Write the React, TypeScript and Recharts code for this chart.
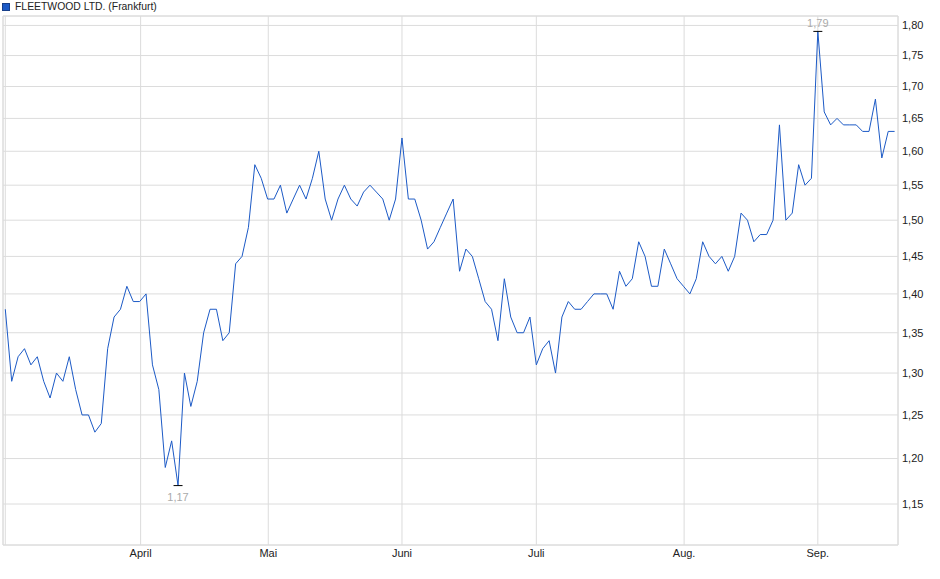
import React from 'react';
import { LineChart, Line, XAxis, YAxis, CartesianGrid, ReferenceArea } from 'recharts';

const seriesName = 'FLEETWOOD LTD. (Frankfurt)';

const prices: number[] = [
  1.38, 1.29, 1.32, 1.33, 1.31, 1.32, 1.29, 1.27, 1.30, 1.29,
  1.32, 1.28, 1.25, 1.25, 1.23, 1.24, 1.33, 1.37, 1.38, 1.41,
  1.39, 1.39, 1.40, 1.31, 1.28, 1.19, 1.22, 1.17, 1.30, 1.26,
  1.29, 1.35, 1.38, 1.38, 1.34, 1.35, 1.44, 1.45, 1.49, 1.58,
  1.56, 1.53, 1.53, 1.55, 1.51, 1.53, 1.55, 1.53, 1.56, 1.60,
  1.53, 1.50, 1.53, 1.55, 1.53, 1.52, 1.54, 1.55, 1.54, 1.53,
  1.50, 1.53, 1.62, 1.53, 1.53, 1.50, 1.46, 1.47, 1.49, 1.51,
  1.53, 1.43, 1.46, 1.45, 1.42, 1.39, 1.38, 1.34, 1.42, 1.37,
  1.35, 1.35, 1.37, 1.31, 1.33, 1.34, 1.30, 1.37, 1.39, 1.38,
  1.38, 1.39, 1.40, 1.40, 1.40, 1.38, 1.43, 1.41, 1.42, 1.47,
  1.45, 1.41, 1.41, 1.46, 1.44, 1.42, 1.41, 1.40, 1.42, 1.47,
  1.45, 1.44, 1.45, 1.43, 1.45, 1.51, 1.50, 1.47, 1.48, 1.48,
  1.50, 1.64, 1.50, 1.51, 1.58, 1.55, 1.56, 1.79, 1.66, 1.64,
  1.65, 1.64, 1.64, 1.64, 1.63, 1.63, 1.68, 1.59, 1.63, 1.63,
];

const monthTickPos: number[] = [0, 21.15, 41.1, 62, 83, 106.1, 127];
const monthLabels: string[] = ['', 'April', 'Mai', 'Juni', 'Juli', 'Aug.', 'Sep.'];

const priceTicks: number[] = [1.15, 1.2, 1.25, 1.3, 1.35, 1.4, 1.45, 1.5, 1.55, 1.6, 1.65, 1.7, 1.75, 1.8];

const xDomain: [number, number] = [-0.36, 139.53];
const yDomain: [number, number] = [1.1067, 1.816];

const data = prices.map((p, i) => ({ i, p }));

const maxIdx = prices.indexOf(Math.max(...prices));
const minIdx = prices.indexOf(Math.min(...prices));

const fmt = (v: number) => v.toFixed(2).replace('.', ',');

const FONT = '"Liberation Sans", Arial, sans-serif';
const LINE_COLOR = '#1c5ac6';

const renderDot = (props: any) => {
  const { cx, cy, index } = props;
  if (index !== maxIdx && index !== minIdx) return <g key={`d${index}`} />;
  const isMax = index === maxIdx;
  return (
    <g key={`d${index}`}>
      <line x1={cx - 4.5} x2={cx + 4.5} y1={cy} y2={cy} stroke="#000" strokeWidth={1} />
      <text
        x={cx}
        y={isMax ? cy - 4 : cy + 15}
        textAnchor="middle"
        fontSize={11}
        fontFamily={FONT}
        fill="#aaaaaa"
      >
        {fmt(prices[index])}
      </text>
    </g>
  );
};

export default function App() {
  return (
    <div style={{ position: 'absolute', left: 0, top: 0, width: 940, height: 579, background: '#fff' }}>
      <div
        style={{
          position: 'absolute',
          left: 2,
          top: 0,
          display: 'flex',
          alignItems: 'center',
          fontFamily: FONT,
          fontSize: 10.4,
          color: '#222',
          lineHeight: '13px',
          whiteSpace: 'nowrap',
        }}
      >
        <span
          style={{
            display: 'inline-block',
            width: 6,
            height: 6,
            background: LINE_COLOR,
            border: '1px solid #173f8a',
            marginRight: 5,
          }}
        />
        <span>{seriesName}</span>
      </div>
      <LineChart
        width={940}
        height={579}
        data={data}
        margin={{ top: 16, right: 0, left: 3, bottom: 4 }}
      >
        <CartesianGrid stroke="#dcdcdc" strokeDasharray="" />
        <ReferenceArea
          x1={xDomain[0]}
          x2={xDomain[1]}
          y1={yDomain[0]}
          y2={yDomain[1]}
          fill="none"
          stroke="#dcdcdc"
          ifOverflow="visible"
        />
        <XAxis
          dataKey="i"
          type="number"
          domain={xDomain}
          ticks={monthTickPos}
          tickFormatter={(v: number) => monthLabels[monthTickPos.indexOf(v)] ?? ''}
          allowDataOverflow
          axisLine={false}
          tickLine={false}
          tickSize={0}
          tickMargin={4}
          height={30}
          interval={0}
          tick={{ fontSize: 11, fontFamily: FONT, fill: '#222' }}
        />
        <YAxis
          orientation="right"
          type="number"
          scale="log"
          domain={yDomain}
          ticks={priceTicks}
          tickFormatter={fmt}
          allowDataOverflow
          axisLine={false}
          tickLine={false}
          tickSize={0}
          tickMargin={4}
          width={42}
          interval={0}
          tick={{ fontSize: 11, fontFamily: FONT, fill: '#222' }}
        />
        <Line
          type="linear"
          dataKey="p"
          stroke={LINE_COLOR}
          strokeWidth={1}
          dot={renderDot}
          activeDot={false}
          isAnimationActive={false}
        />
      </LineChart>
    </div>
  );
}
